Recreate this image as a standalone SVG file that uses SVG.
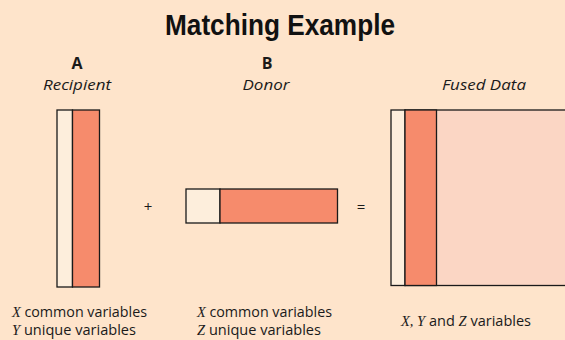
<svg xmlns="http://www.w3.org/2000/svg" width="565" height="340" viewBox="0 0 565 340">
<style>
.bg{fill:#FEE4CB}
.lt{fill:#FDEEDC;stroke:#1a1a1a;stroke-width:1.3}
.sal{fill:#F68B6C;stroke:#1a1a1a;stroke-width:1.3}
.pk{fill:#FBD6C4;stroke:#1a1a1a;stroke-width:1.3}
.t{font-family:"Open Sans","Liberation Sans",sans-serif;fill:#1a1a1a}
.it{font-style:italic}
.v{font-family:"Liberation Serif",serif;font-style:italic}
</style>
<rect class="bg" x="0" y="0" width="565" height="340"/>
<text x="280" y="35" text-anchor="middle" font-size="30" font-weight="bold" textLength="230" lengthAdjust="spacingAndGlyphs" style="font-family:'Liberation Sans',sans-serif;fill:#111">Matching Example</text>
<g id="A">
<text class="t" x="77" y="69" text-anchor="middle" font-size="16" font-weight="bold">A</text>
<text class="t it" x="77" y="90" text-anchor="middle" font-size="14.5" textLength="68" lengthAdjust="spacingAndGlyphs">Recipient</text>
<rect class="lt" x="57" y="110" width="15.5" height="177"/>
<rect class="sal" x="72.5" y="110" width="27" height="177"/>
<text class="t" x="12" y="317" font-size="14" textLength="135" lengthAdjust="spacingAndGlyphs"><tspan class="v">X</tspan> common variables</text>
<text class="t" x="12" y="335" font-size="14" textLength="124" lengthAdjust="spacingAndGlyphs"><tspan class="v">Y</tspan> unique variables</text>
</g>
<g id="plus"><text class="t" x="148" y="212" text-anchor="middle" font-size="15">+</text></g>
<g id="B">
<text class="t" x="267" y="69" text-anchor="middle" font-size="16" font-weight="bold">B</text>
<text class="t it" x="266" y="90" text-anchor="middle" font-size="14.5" textLength="47" lengthAdjust="spacingAndGlyphs">Donor</text>
<rect class="lt" x="186" y="189" width="34" height="34"/>
<rect class="sal" x="220" y="189" width="117.5" height="34"/>
<text class="t" x="197" y="317" font-size="14" textLength="135" lengthAdjust="spacingAndGlyphs"><tspan class="v">X</tspan> common variables</text>
<text class="t" x="197" y="335" font-size="14" textLength="124" lengthAdjust="spacingAndGlyphs"><tspan class="v">Z</tspan> unique variables</text>
</g>
<g id="eq"><text class="t" x="361" y="212" text-anchor="middle" font-size="15">=</text></g>
<g id="Fused">
<text class="t it" x="484" y="90" text-anchor="middle" font-size="14.5" textLength="84" lengthAdjust="spacingAndGlyphs">Fused Data</text>
<rect class="pk" x="405" y="110" width="170" height="175.5"/>
<rect class="lt" x="391" y="110" width="14" height="175.5"/>
<rect class="sal" x="405" y="110" width="31.5" height="175.5"/>
<text class="t" x="401" y="326" font-size="14" textLength="130" lengthAdjust="spacingAndGlyphs"><tspan class="v">X, Y</tspan> and <tspan class="v">Z</tspan> variables</text>
</g>
</svg>
